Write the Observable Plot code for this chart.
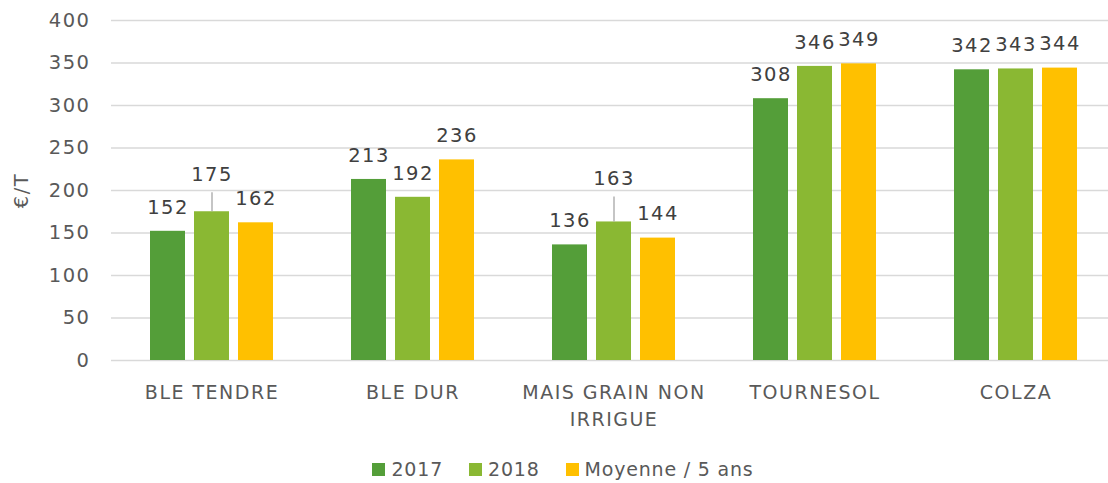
<!DOCTYPE html>
<html>
<head>
<meta charset="utf-8">
<script src="https://cdn.jsdelivr.net/npm/d3@7"></script>
<script src="https://cdn.jsdelivr.net/npm/@observablehq/plot@0.6"></script>
<style>
  html, body { margin: 0; padding: 0; background: #fff; overflow: hidden; }
  #legend { display: flex; justify-content: center; align-items: center; height: 30px; margin-top: 14px; padding-left: 18px;
    font-family: "DejaVu Sans", sans-serif; font-size: 19px; color: #595959; letter-spacing: 0.8px; }
  .item { display: flex; align-items: center; margin: 0 13px; }
  .sw { width: 13px; height: 13px; margin-right: 6px; }
</style>
</head>
<body>
<div id="chart"></div>
<div id="legend"></div>
<script>
const categories = ["BLE TENDRE", "BLE DUR", "MAIS GRAIN NON IRRIGUE", "TOURNESOL", "COLZA"];
const series = ["2017", "2018", "Moyenne / 5 ans"];
const values2017 = [152, 213, 136, 308, 342];
const values2018 = [175, 192, 163, 346, 343];
const valuesMoyenne = [162, 236, 144, 349, 344];
const yTicks = [0, 50, 100, 150, 200, 250, 300, 350, 400];
const colors = ["#549E39", "#8AB833", "#FFC000"];

const seriesValues = [values2017, values2018, valuesMoyenne];
const data = [];
categories.forEach((c, i) => series.forEach((s, j) => data.push({cat: c, series: s, value: seriesValues[j][i]})));

// labels lifted with a leader line (px above bar top)
const lifted = new Map([["BLE TENDRE|2018", 37], ["MAIS GRAIN NON IRRIGUE|2018", 43]]);
const key = d => d.cat + "|" + d.series;
const normal = data.filter(d => !lifted.has(key(d)));
const pxPerUnit = 340 / 400;

const marks = [
  Plot.gridY(yTicks, {stroke: "#d9d9d9", strokeOpacity: 1, strokeWidth: 1.3}),
  Plot.axisY(yTicks, {tickSize: 0, tickPadding: 21, label: "€/T", labelAnchor: "center", labelArrow: "none", labelOffset: 97, fill: "#595959", fontSize: 19.5}),
  Plot.barY(data, {fx: "cat", x: "series", y: "value", fill: "series"}),
  Plot.text(normal, {fx: "cat", x: "series", y: "value", text: d => String(d.value), dy: -24, lineAnchor: "middle", fill: "#404040", fontSize: 19.5}),
  Plot.text(categories, {fx: d => d, text: d => d.replace("NON IRRIGUE", "NON\nIRRIGUE"), frameAnchor: "bottom", dy: 19, lineAnchor: "top", lineHeight: 1.42, fill: "#595959"})
];
for (const [k, lift] of lifted) {
  const d = data.filter(e => key(e) === k);
  marks.push(Plot.text(d, {fx: "cat", x: "series", y: "value", text: e => String(e.value), dy: -lift, lineAnchor: "middle", fill: "#404040", fontSize: 19.5}));
  marks.push(Plot.ruleX(d, {fx: "cat", x: "series", y1: "value", y2: e => e.value + (lift - 18) / pxPerUnit, stroke: "#a6a6a6", strokeWidth: 1.3}));
}

const chart = Plot.plot({
  width: 1108,
  height: 440,
  marginLeft: 110,
  marginRight: -8,
  marginTop: 20,
  marginBottom: 80,
  style: {fontFamily: "DejaVu Sans, sans-serif", fontSize: "19px", color: "#595959", letterSpacing: "1.5px", background: "#fff"},
  fx: {domain: categories, padding: 0, axis: null},
  x: {domain: series, paddingInner: 0.213, paddingOuter: 0.865, axis: null},
  y: {domain: [0, 400], axis: null},
  color: {domain: series, range: colors},
  marks
});
document.getElementById("chart").appendChild(chart);

const legend = document.getElementById("legend");
series.forEach((s, i) => {
  const item = document.createElement("div");
  item.className = "item";
  const sw = document.createElement("div");
  sw.className = "sw";
  sw.style.background = colors[i];
  const t = document.createElement("span");
  t.textContent = s;
  item.appendChild(sw);
  item.appendChild(t);
  legend.appendChild(item);
});
</script>
</body>
</html>
